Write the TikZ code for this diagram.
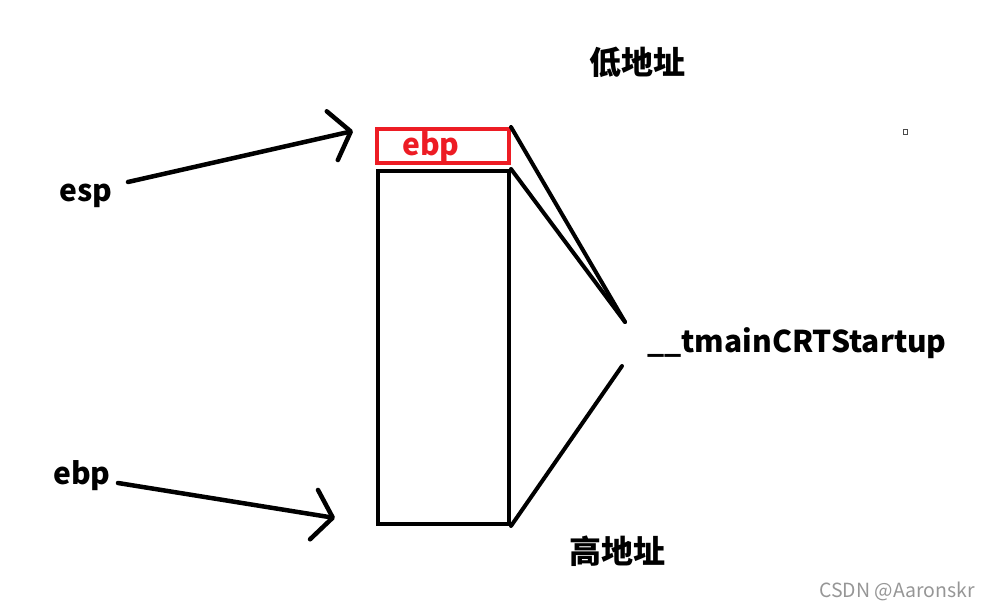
\documentclass[tikz,border=0pt]{standalone}
\usepackage{fontspec}
\setmainfont{Noto Sans CJK SC}
\usetikzlibrary{arrows.meta}
\definecolor{stackred}{RGB}{237,28,36}
\definecolor{markgray}{RGB}{150,150,150}
\tikzset{
  lbl/.style={font=\bfseries\fontsize{30}{30}\selectfont},
  ptr/.style={line width=4.5pt, line cap=round,
    -{Straight Barb[round, length=19pt 0 0, width=50pt 0 0]}},
  frame/.style={draw, line width=4pt, inner sep=0pt},
}
\begin{document}
\begin{tikzpicture}[x=1pt, y=-1pt]
    \useasboundingbox (0, 0) rectangle (989, 609);
    % stack frames
    \node [frame, draw=stackred, minimum width=132pt, minimum height=34pt] (top) at (443, 146) {};
    \node [lbl, text=stackred] (topebp) at (431, 146.5) {ebp};
    \node [frame, minimum width=131pt, minimum height=353pt] (body) at (443.5, 347.5) {};
    % labels
    \node [lbl, font=\bfseries\fontsize{32}{32}\selectfont] (low) at (637, 62) {低地址};
    \node [lbl, font=\bfseries\fontsize{32}{32}\selectfont] (high) at (617, 551) {高地址};
    \node [lbl] (esp) at (86, 196) {esp};
    \node [lbl] (ebp) at (82, 476) {ebp};
    \node [lbl] (func) at (797, 343) {\_\_tmainCRTStartup};
    \node [text=markgray, font=\fontsize{19.5}{19.5}\selectfont] (mark) at (897, 591) {CSDN @Aaronskr};
    % pointers
    \coordinate (esptip) at (353, 131);
    \coordinate (ebptip) at (335, 518);
    \draw [ptr] (128, 182) -- (esptip);
    \draw [ptr] (118, 483) -- (ebptip);
    % brace lines
    \coordinate (f1) at (625, 322);
    \coordinate (f2) at (622, 366);
    \draw [line width=4pt, line cap=round] (top.north east) -- (f1);
    \draw [line width=4pt, line cap=round] (body.north east) -- (f1);
    \draw [line width=4pt, line cap=round] (body.south east) -- (f2);
    \draw [draw=black!70, line width=1pt] (903, 129.5) rectangle (907, 134.5);
\end{tikzpicture}
\end{document}
